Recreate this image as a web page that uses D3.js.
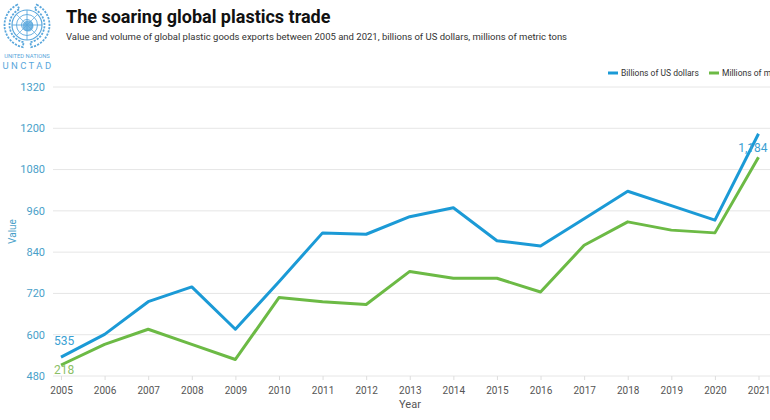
<!DOCTYPE html>
<html>
<head>
<meta charset="utf-8">
<script src="https://cdn.jsdelivr.net/npm/d3@7"></script>
<style>
  body { margin: 0; background: #fff; font-family: Roboto, "Open Sans", sans-serif; }
  #chart { width: 770px; height: 420px; overflow: hidden; }
</style>
</head>
<body>
<div id="chart"></div>
<script>
// data
const years = [2005, 2006, 2007, 2008, 2009, 2010, 2011, 2012, 2013, 2014, 2015, 2016, 2017, 2018, 2019, 2020, 2021];
const usdBillions = [535, 601, 696, 739, 616, 754, 896, 892, 943, 969, 873, 858, 937, 1017, 975, 933, 1184];
const metricTonsMillions = [218, 233, 244, 233, 222, 267, 264, 262, 286, 281, 281, 271, 305, 322, 316, 314, 369];
const valueTicks = [480, 600, 720, 840, 960, 1080, 1200, 1320];

const W = 770, H = 420;
const margin = { top: 87, right: 12, bottom: 44, left: 53 };

const blue = "#1b9ad6", green = "#6cba45";

const svg = d3.select("#chart")
    .append("svg")
    .attr("width", W)
    .attr("height", H);

// scales
const x = d3.scaleLinear()
    .domain([2005, 2021])
    .range([61, 758.5]);

const y = d3.scaleLinear()
    .domain([480, 1320])
    .range([H - margin.bottom, margin.top]);

// secondary (hidden) axis for the tonnage series
const y2 = d3.scaleLinear()
    .domain([210, 420])
    .range([H - margin.bottom, margin.top]);

// gridlines
svg.append("g")
    .selectAll("line")
    .data(valueTicks)
    .join("line")
    .attr("x1", margin.left)
    .attr("x2", W)
    .attr("y1", d => y(d))
    .attr("y2", d => y(d))
    .attr("stroke", "#e6e6e6")
    .attr("stroke-width", 1);

// y axis labels
svg.append("g")
    .selectAll("text")
    .data(valueTicks)
    .join("text")
    .attr("x", 45)
    .attr("y", d => y(d))
    .attr("dy", "0.35em")
    .attr("text-anchor", "end")
    .attr("font-size", 11)
    .attr("fill", "#4a9fc9")
    .text(d => d);

svg.append("text")
    .attr("transform", `translate(16, ${y(900)}) rotate(-90)`)
    .attr("text-anchor", "middle")
    .attr("font-size", 10)
    .attr("fill", "#4a9fc9")
    .text("Value");

// x axis
const xAxis = svg.append("g")
    .attr("transform", `translate(0, ${H - margin.bottom})`)
    .call(d3.axisBottom(x).tickValues(years).tickFormat(d3.format("d")).tickSize(4).tickPadding(7));
xAxis.select(".domain").remove();
xAxis.selectAll(".tick line").attr("stroke", "#dddddd");
xAxis.selectAll(".tick text")
    .attr("font-family", "Roboto, sans-serif")
    .attr("font-size", 10)
    .attr("fill", "#555");

svg.append("text")
    .attr("x", 410)
    .attr("y", 408)
    .attr("text-anchor", "middle")
    .attr("font-size", 11)
    .attr("fill", "#555")
    .text("Year");

// lines
const usdLine = d3.line()
    .x((d, i) => x(years[i]))
    .y(d => y(d));

const tonLine = d3.line()
    .x((d, i) => x(years[i]))
    .y(d => y2(d));

svg.append("path")
    .datum(metricTonsMillions)
    .attr("d", tonLine)
    .attr("fill", "none")
    .attr("stroke", green)
    .attr("stroke-width", 3)
    .attr("stroke-linejoin", "round");

svg.append("path")
    .datum(usdBillions)
    .attr("d", usdLine)
    .attr("fill", "none")
    .attr("stroke", blue)
    .attr("stroke-width", 3)
    .attr("stroke-linejoin", "round");

// data labels at the ends
const fmt = d3.format(",");
svg.append("text")
    .attr("x", x(2005) - 7)
    .attr("y", y(usdBillions[0]) - 12)
    .attr("font-size", 12)
    .attr("fill", "#3a9fd3")
    .text(fmt(usdBillions[0]));

svg.append("text")
    .attr("x", x(2005) - 7)
    .attr("y", y2(metricTonsMillions[0]) + 9)
    .attr("font-size", 12)
    .attr("fill", "#8cbf66")
    .text(fmt(metricTonsMillions[0]));

svg.append("text")
    .attr("x", x(2021) + 9)
    .attr("y", y(usdBillions[16]) + 18)
    .attr("text-anchor", "end")
    .attr("font-size", 12)
    .attr("fill", "#3a9fd3")
    .text(fmt(usdBillions[16]));

// legend (the second item runs off the right edge, as in the original)
const legendItems = [
    { label: "Billions of US dollars", color: blue, x: 608 },
    { label: "Millions of metric tons", color: green, x: 709 }
];
const legend = svg.append("g")
    .selectAll("g")
    .data(legendItems)
    .join("g")
    .attr("transform", d => `translate(${d.x}, 73)`);
legend.append("line")
    .attr("x1", 0).attr("x2", 10)
    .attr("stroke", d => d.color)
    .attr("stroke-width", 3);
legend.append("text")
    .attr("x", 13)
    .attr("dy", "0.35em")
    .attr("font-size", 8.5)
    .attr("fill", "#333")
    .text(d => d.label);

// title + subtitle
svg.append("text")
    .attr("x", 66)
    .attr("y", 23)
    .attr("font-size", 18)
    .attr("font-weight", "bold")
    .attr("fill", "#111")
    .text("The soaring global plastics trade");

svg.append("text")
    .attr("x", 66)
    .attr("y", 40)
    .attr("font-size", 9.5)
    .attr("fill", "#333")
    .text("Value and volume of global plastic goods exports between 2005 and 2021, billions of US dollars, millions of metric tons");

// simplified UN emblem
const logoColor = "#5aa7dc";
const logo = svg.append("g").attr("transform", "translate(27, 25)");
logo.append("circle").attr("r", 15).attr("fill", "none").attr("stroke", logoColor).attr("stroke-width", 1.2);
logo.append("circle").attr("r", 10.5).attr("fill", "none").attr("stroke", logoColor).attr("stroke-width", 0.9);
logo.append("circle").attr("r", 5.5).attr("fill", "none").attr("stroke", logoColor).attr("stroke-width", 0.9);
logo.append("circle").attr("r", 5.5).attr("cx", 1).attr("cy", 1).attr("fill", logoColor).attr("opacity", 0.8);
logo.append("line").attr("x1", -15).attr("x2", 15).attr("stroke", logoColor).attr("stroke-width", 0.9);
logo.append("line").attr("y1", -15).attr("y2", 15).attr("stroke", logoColor).attr("stroke-width", 0.9);
logo.append("line").attr("x1", -10.6).attr("y1", -10.6).attr("x2", 10.6).attr("y2", 10.6).attr("stroke", logoColor).attr("stroke-width", 0.7);
logo.append("line").attr("x1", -10.6).attr("y1", 10.6).attr("x2", 10.6).attr("y2", -10.6).attr("stroke", logoColor).attr("stroke-width", 0.7);
// laurel branches
[-1, 1].forEach(s => {
    logo.append("path")
        .attr("d", d3.arc()({ innerRadius: 17.5, outerRadius: 22.5, startAngle: s * 0.45, endAngle: s * 2.95 }))
        .attr("fill", "none")
        .attr("stroke", logoColor)
        .attr("stroke-width", 1.8)
        .attr("stroke-dasharray", "2.2 1.2");
});
svg.append("text")
    .attr("x", 27).attr("y", 58)
    .attr("text-anchor", "middle")
    .attr("font-size", 5.8)
    .attr("fill", logoColor)
    .text("UNITED NATIONS");
svg.append("text")
    .attr("x", 28).attr("y", 69)
    .attr("text-anchor", "middle")
    .attr("font-size", 9.5)
    .attr("letter-spacing", "2.4px")
    .attr("fill", logoColor)
    .text("UNCTAD");
</script>
</body>
</html>
